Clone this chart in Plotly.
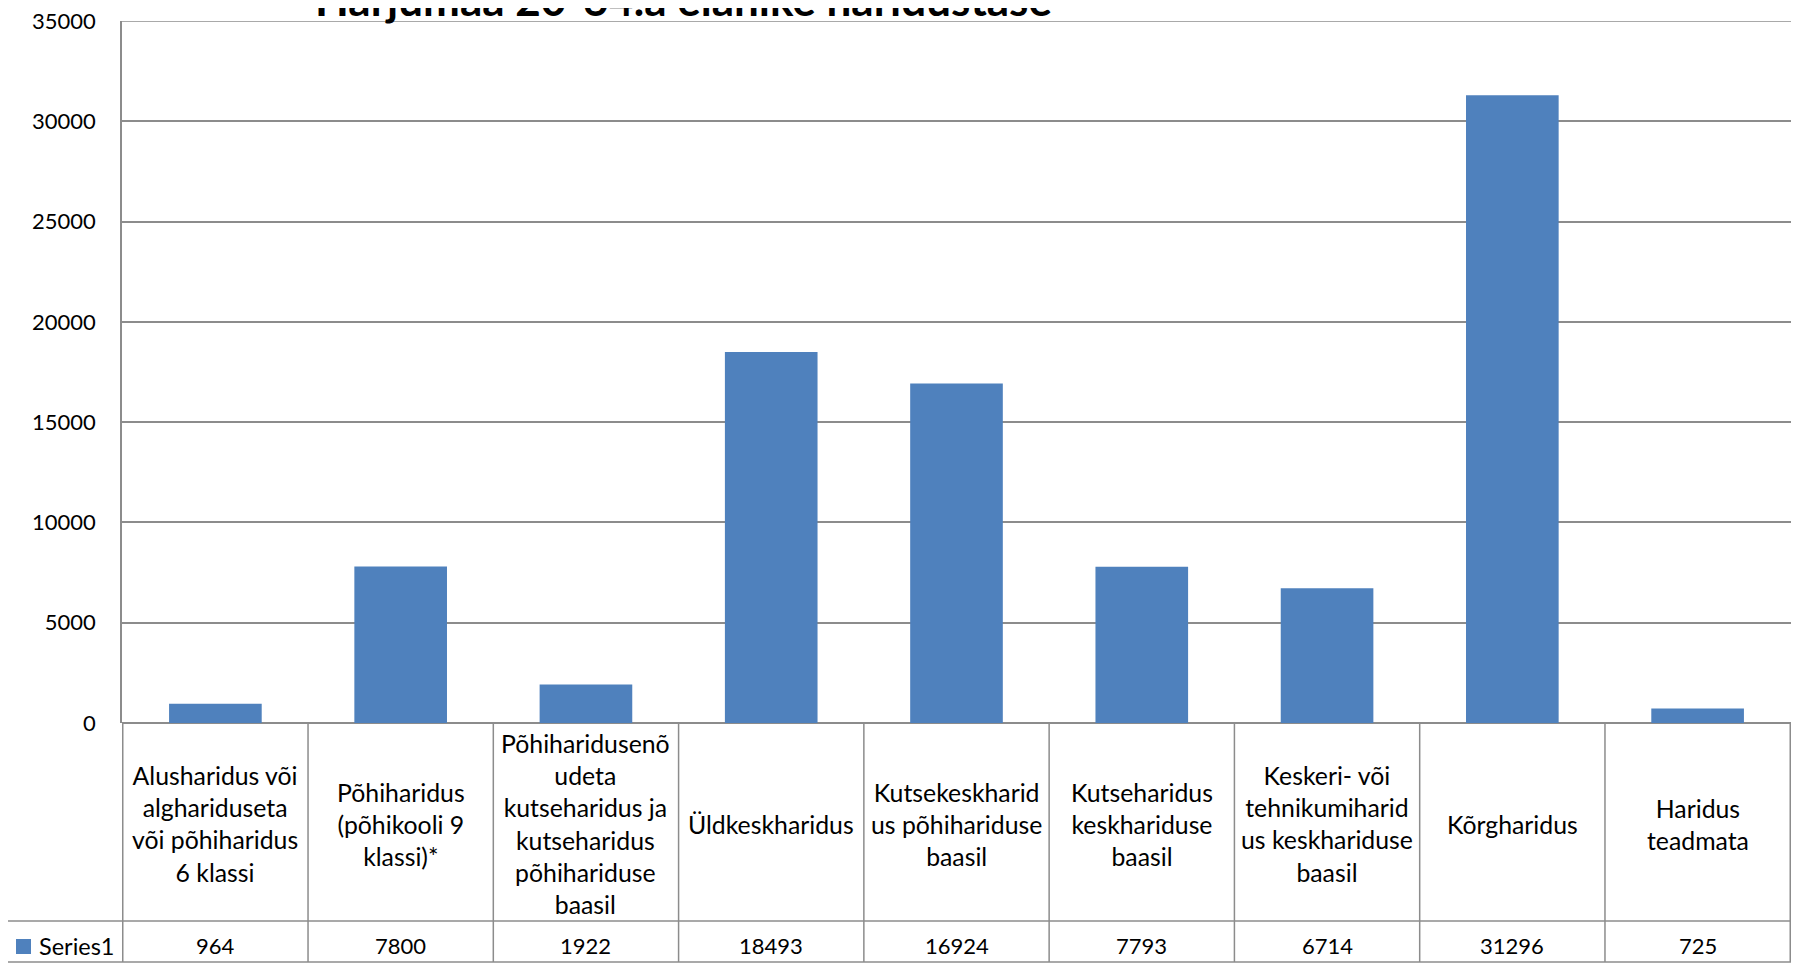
import plotly.graph_objects as go

title_text = "Harjumaa 20-64.a elanike haridustase"
series_name = "Series1"
categories = [
    "Alusharidus või alghariduseta või põhiharidus 6 klassi",
    "Põhiharidus (põhikooli 9 klassi)*",
    "Põhiharidusenõudeta kutseharidus ja kutseharidus põhihariduse baasil",
    "Üldkeskharidus",
    "Kutsekeskharidus põhihariduse baasil",
    "Kutseharidus keskhariduse baasil",
    "Keskeri- või tehnikumiharidus keskhariduse baasil",
    "Kõrgharidus",
    "Haridus teadmata",
]
category_labels = [
    "Alusharidus või<br>alghariduseta<br>või põhiharidus<br>6 klassi",
    "Põhiharidus<br>(põhikooli 9<br>klassi)*",
    "Põhiharidusenõ<br>udeta<br>kutseharidus ja<br>kutseharidus<br>põhihariduse<br>baasil",
    "Üldkeskharidus",
    "Kutsekeskharid<br>us põhihariduse<br>baasil",
    "Kutseharidus<br>keskhariduse<br>baasil",
    "Keskeri- või<br>tehnikumiharid<br>us keskhariduse<br>baasil",
    "Kõrgharidus",
    "Haridus<br>teadmata",
]
values = [964, 7800, 1922, 18493, 16924, 7793, 6714, 31296, 725]
y_ticks = [0, 5000, 10000, 15000, 20000, 25000, 30000, 35000]
y_tick_text = [str(v) for v in y_ticks]

# page body has an 8px margin; work in page pixels and convert
OFF = 8
W, H = 1784, 955
PL, PR, PT, PB = 122, 1791, 21, 723   # plot area in page pixels
ML, MR, MT, MB = PL - OFF, (W + OFF) - PR, PT - OFF, (H + OFF) - PB
plot_h = PB - PT
plot_w = PR - PL

def py(page_y):
    return (PB - page_y) / plot_h

def pxr(page_x):
    return (page_x - PL) / plot_w

BAR = "#4F81BD"
GRID = "#8C8C8C"
FONT = "Lato"

fig = go.Figure()
fig.add_trace(go.Bar(x=categories, y=values, marker=dict(color=BAR, line=dict(width=0)),
                     name=series_name, showlegend=False))

shapes = []
# top gridline (edge of the value axis)
shapes.append(dict(type="line", xref="paper", yref="y", x0=0, x1=1,
                   y0=y_ticks[-1], y1=y_ticks[-1], line=dict(color=GRID, width=1.5)))
row_top = py(921)
tbl_bot = py(962)
n = len(categories)
for i in range(n + 1):
    shapes.append(dict(type="line", xref="x", yref="paper", x0=i - 0.5, x1=i - 0.5,
                       y0=tbl_bot, y1=0, line=dict(color=GRID, width=1.5)))
for yy in (row_top, tbl_bot):
    shapes.append(dict(type="line", xref="paper", yref="paper", x0=pxr(7), x1=1,
                       y0=yy, y1=yy, line=dict(color=GRID, width=1.5)))
shapes.append(dict(type="line", xref="paper", yref="paper", x0=pxr(7), x1=pxr(7),
                   y0=tbl_bot, y1=row_top, line=dict(color=GRID, width=1.5)))
shapes.append(dict(type="rect", xref="paper", yref="paper", x0=pxr(16), x1=pxr(31),
                   y0=py(954), y1=py(939), fillcolor=BAR, line=dict(width=0)))

annotations = []
for c, lab in zip(categories, category_labels):
    annotations.append(dict(x=c, xref="x", y=py(824), yref="paper", text=lab,
                            showarrow=False, xanchor="center", yanchor="middle",
                            font=dict(family=FONT, size=24.8, color="black")))
for c, v in zip(categories, values):
    annotations.append(dict(x=c, xref="x", y=py(946), yref="paper", text=str(v),
                            showarrow=False, xanchor="center", yanchor="middle",
                            font=dict(family=FONT, size=22, color="black")))
annotations.append(dict(x=pxr(37), xref="paper", y=py(946), yref="paper", text=series_name,
                        showarrow=False, xanchor="left", yanchor="middle",
                        font=dict(family=FONT, size=23.5, color="black")))
annotations.append(dict(x=pxr(683), xref="paper", y=1, yref="paper", yshift=22,
                        text="<b>" + title_text + "</b>", showarrow=False,
                        xanchor="center", yanchor="middle",
                        font=dict(family=FONT, size=44, color="black")))

fig.update_layout(
    width=W, height=H,
    margin=dict(l=ML, r=MR, t=MT, b=MB, autoexpand=False),
    paper_bgcolor="white", plot_bgcolor="white",
    bargap=0.5,
    shapes=shapes, annotations=annotations,
    xaxis=dict(showticklabels=False, showgrid=False, zeroline=False, showline=False,
               ticks=""),
    yaxis=dict(range=[0, 35000], tickvals=y_ticks, ticktext=y_tick_text,
               showgrid=True, gridcolor=GRID,
               gridwidth=1.5, zeroline=True, zerolinecolor=GRID, zerolinewidth=1.5,
               showline=True, linecolor=GRID, linewidth=1.5, ticks="",
               ticklabelstandoff=20, ticklabeloverflow="allow",
               tickfont=dict(family=FONT, size=22, color="black")),
)

fig.write_html("out.html")
